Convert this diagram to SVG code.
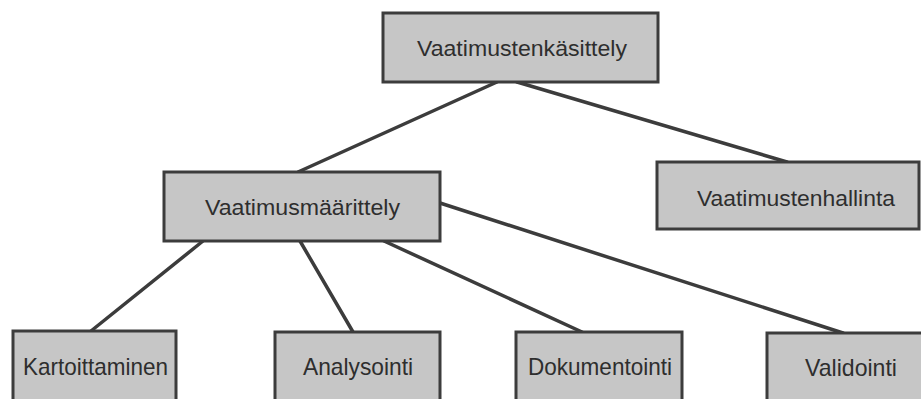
<svg xmlns="http://www.w3.org/2000/svg" width="921" height="399" viewBox="0 0 921 399">
<style>
.box{fill:#c6c6c6;stroke:#3c3c3c;stroke-width:3}
.lbl{font-family:"Liberation Sans",Arial,sans-serif;font-size:22px;fill:#2e2e2e;text-anchor:start}
.sm{font-size:24px}
.edge{stroke:#3c3c3c;stroke-width:3.5;fill:none;stroke-linecap:round}
</style>
<rect width="921" height="399" fill="#ffffff"/>
<g id="connectors">
<line class="edge" x1="497" y1="82" x2="298" y2="172"/>
<line class="edge" x1="517" y1="82" x2="787" y2="162"/>
<line class="edge" x1="203" y1="241" x2="91" y2="331"/>
<line class="edge" x1="300" y1="241" x2="353" y2="332"/>
<line class="edge" x1="384" y1="241" x2="582" y2="332"/>
<line class="edge" x1="440" y1="203" x2="843" y2="333"/>
</g>
<g id="n-vaatimustenkasittely">
<rect class="box" x="383" y="13" width="275" height="69"/>
<text class="lbl" x="417" y="56" textLength="210" lengthAdjust="spacingAndGlyphs">Vaatimustenkäsittely</text>
</g>
<g id="n-vaatimusmaarittely">
<rect class="box" x="164" y="172" width="276" height="69"/>
<text class="lbl" x="205" y="215" textLength="195" lengthAdjust="spacingAndGlyphs">Vaatimusmäärittely</text>
</g>
<g id="n-vaatimustenhallinta">
<rect class="box" x="657" y="162" width="262" height="67"/>
<text class="lbl" x="697" y="206" textLength="198" lengthAdjust="spacingAndGlyphs">Vaatimustenhallinta</text>
</g>
<g id="n-kartoittaminen">
<rect class="box" x="13" y="331" width="163" height="80"/>
<text class="lbl sm" x="23" y="375" textLength="145" lengthAdjust="spacingAndGlyphs">Kartoittaminen</text>
</g>
<g id="n-analysointi">
<rect class="box" x="275" y="332" width="165" height="80"/>
<text class="lbl sm" x="303" y="375" textLength="110" lengthAdjust="spacingAndGlyphs">Analysointi</text>
</g>
<g id="n-dokumentointi">
<rect class="box" x="516" y="332" width="166" height="80"/>
<text class="lbl sm" x="528" y="375" textLength="144" lengthAdjust="spacingAndGlyphs">Dokumentointi</text>
</g>
<g id="n-validointi">
<rect class="box" x="767" y="333" width="160" height="80"/>
<text class="lbl sm" x="805" y="376" textLength="92" lengthAdjust="spacingAndGlyphs">Validointi</text>
</g>
</svg>
